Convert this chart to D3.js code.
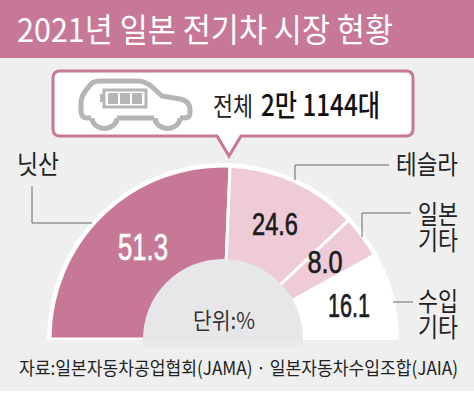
<!DOCTYPE html>
<html>
<head>
<meta charset="utf-8">
<script src="https://cdnjs.cloudflare.com/ajax/libs/d3/7.8.5/d3.min.js"></script>
<style>
  html, body { margin: 0; padding: 0; background: #fff; }
  text { font-family: "Noto Sans CJK KR", sans-serif; }
</style>
</head>
<body>
<div id="chart"></div>
<script>
const categories = ['닛산', '테슬라', '일본 기타', '수입 기타'];
const shares = [51.3, 24.6, 8.0, 16.1];
const shareLabels = ['51.3', '24.6', '8.0', '16.1'];
const sliceColors = ['#c77897', '#efcbd8', '#efcbd8', '#ffffff'];
const labelColors = ['#ffffff', '#1c1c1c', '#1c1c1c', '#1c1c1c'];

const width = 474, height = 394;
const cx = 223, cy = 339;
const pink = '#c77897';

const svg = d3.select('#chart').append('svg')
    .attr('width', width)
    .attr('height', height)
    .style('display', 'block');

// helper, squeezes the korean text to the width in the picture
function label(x, y, str, size, w, opts = {}) {
    return svg.append('text')
        .attr('x', x)
        .attr('y', y)
        .attr('font-size', size)
        .attr('font-weight', opts.weight || 400)
        .attr('fill', opts.fill || '#222')
        .attr('text-anchor', opts.anchor || 'start')
        .attr('textLength', w)
        .attr('lengthAdjust', 'spacingAndGlyphs')
        .text(str);
}

// two line label kept as one text
function label2(x, y, lines, size, w) {
    const t = svg.append('text')
        .attr('font-size', size)
        .attr('fill', '#222');
    lines.forEach((s, i) => {
        t.append('tspan')
            .attr('x', x)
            .attr('y', y + i * 26)
            .attr('textLength', w)
            .attr('lengthAdjust', 'spacingAndGlyphs')
            .text(s);
    });
}

svg.append('rect').attr('width', width).attr('height', height).attr('fill', '#efefef');
svg.append('rect').attr('y', 391).attr('width', width).attr('height', 3).attr('fill', '#fff');

// title band
svg.append('rect').attr('width', width).attr('height', 58).attr('fill', pink);
label(17, 42, '2021년 일본 전기차 시장 현황', 33, 376, { fill: '#fff' });

// half donut
const pie = d3.pie().sort(null).startAngle(-Math.PI / 2).endAngle(Math.PI / 2);
const arc = d3.arc().innerRadius(0).outerRadius(173);
const graph = svg.append('g').attr('transform', `translate(${cx},${cy})`);
const arcs = pie(shares);

graph.selectAll('path.slice')
    .data(arcs)
    .enter()
    .append('path')
    .attr('class', 'slice')
    .attr('d', arc)
    .attr('fill', (d, i) => sliceColors[i])
    .attr('stroke', '#fff')
    .attr('stroke-width', 3);

// outer white rim
graph.append('path')
    .attr('d', d3.arc().innerRadius(173).outerRadius(176).startAngle(-Math.PI / 2).endAngle(Math.PI / 2)())
    .attr('fill', '#fff');

// center hole, runs a bit under the baseline
svg.append('rect').attr('x', 0).attr('y', cy + 1).attr('width', width).attr('height', 14).attr('fill', '#efefef');
graph.append('path')
    .attr('d', d3.arc().innerRadius(0).outerRadius(80).startAngle(-Math.PI / 2).endAngle(Math.PI / 2)())
    .attr('fill', '#e7e7e9');
svg.append('rect').attr('x', cx - 80).attr('y', cy).attr('width', 160).attr('height', 8).attr('fill', '#e9e9eb');

// slice values
const valueSize = [37, 32, 32, 33];
const valueWidth = [50, 46, 35, 42];
const valueAt = [[143, 260], [275, 235], [325, 273], [349, 317]];
graph.selectAll('text.value')
    .data(arcs)
    .enter()
    .append('text')
    .attr('class', 'value')
    .attr('x', (d, i) => valueAt[i][0] - cx)
    .attr('y', (d, i) => valueAt[i][1] - cy)
    .attr('text-anchor', 'middle')
    .style('font-family', '"Liberation Sans", sans-serif')
    .attr('font-size', (d, i) => valueSize[i])
    .attr('fill', (d, i) => labelColors[i])
    .attr('stroke', (d, i) => labelColors[i])
    .attr('stroke-width', 0.7)
    .attr('textLength', (d, i) => valueWidth[i])
    .attr('lengthAdjust', 'spacingAndGlyphs')
    .text((d, i) => shareLabels[i]);

label(193, 329, '단위:%', 23, 62, { fill: '#333' });

// leader lines
const line = d3.line();
const leaders = [
    [[32, 186], [32, 223], [92, 223]],
    [[389, 165], [295, 165], [295, 180]],
    [[411, 213], [362, 213], [362, 237]],
    [[413, 302], [393, 302]]
];
svg.selectAll('path.leader')
    .data(leaders)
    .enter()
    .append('path')
    .attr('class', 'leader')
    .attr('d', line)
    .attr('fill', 'none')
    .attr('stroke', '#666')
    .attr('stroke-width', 1);

// category labels
label(17, 174, categories[0], 26, 42);
label(396, 174, categories[1], 26, 62);
label2(418, 224, categories[2].split(' '), 26, 40);
label2(418, 311, categories[3].split(' '), 26, 40);

// source line, taller than wide so scaled instead of squeezed
svg.append('text')
    .attr('transform', 'translate(19,375) scale(1,1.2)')
    .attr('font-size', 15.5)
    .attr('fill', '#222')
    .attr('textLength', 439)
    .attr('lengthAdjust', 'spacingAndGlyphs')
    .text('자료:일본자동차공업협회(JAMA) · 일본자동차수입조합(JAIA)');

// callout box
svg.append('path')
    .attr('d', 'M60,71 H406 Q413,71 413,78 V129 Q413,136 406,136 H241 L229,156 L217,136 H60 Q53,136 53,129 V78 Q53,71 60,71 Z')
    .attr('fill', '#fff')
    .attr('stroke', pink)
    .attr('stroke-width', 3);

// car icon
const car = svg.append('g').attr('fill', 'none').attr('stroke', '#b5b5b5');
car.append('path')
    .attr('stroke-width', 5)
    .attr('stroke-linejoin', 'round')
    .attr('d', 'M91,118 H87 Q81,118 81,110 V103 Q81,96 87,89 L91,84 Q94,81 100,81 H137 Q145,81 151,86 L162,96 L180,99 Q190,101 190,110 V113 Q190,118 184,118 H180 M154,118 H117');
car.append('path').attr('stroke-width', 5).attr('d', 'M92,118 a12,10 0 0 0 25,0');
car.append('path').attr('stroke-width', 5).attr('d', 'M155,118 a12,10 0 0 0 25,0');
car.append('rect').attr('x', 104).attr('y', 90).attr('width', 42).attr('height', 17).attr('stroke-width', 3);
car.append('rect').attr('x', 100).attr('y', 94).attr('width', 3).attr('height', 8).attr('fill', '#b5b5b5').attr('stroke', 'none');
car.selectAll('rect.cell')
    .data(d3.range(3))
    .enter()
    .append('rect')
    .attr('class', 'cell')
    .attr('x', d => 108 + d * 12)
    .attr('y', 93)
    .attr('width', 10)
    .attr('height', 11)
    .attr('fill', '#b5b5b5')
    .attr('stroke', 'none');

// total
label(213, 116, '전체', 26, 40, { fill: '#222' });
label(261, 116, '2만 1144대', 30, 119, { fill: '#111', weight: 500 });
</script>
</body>
</html>
